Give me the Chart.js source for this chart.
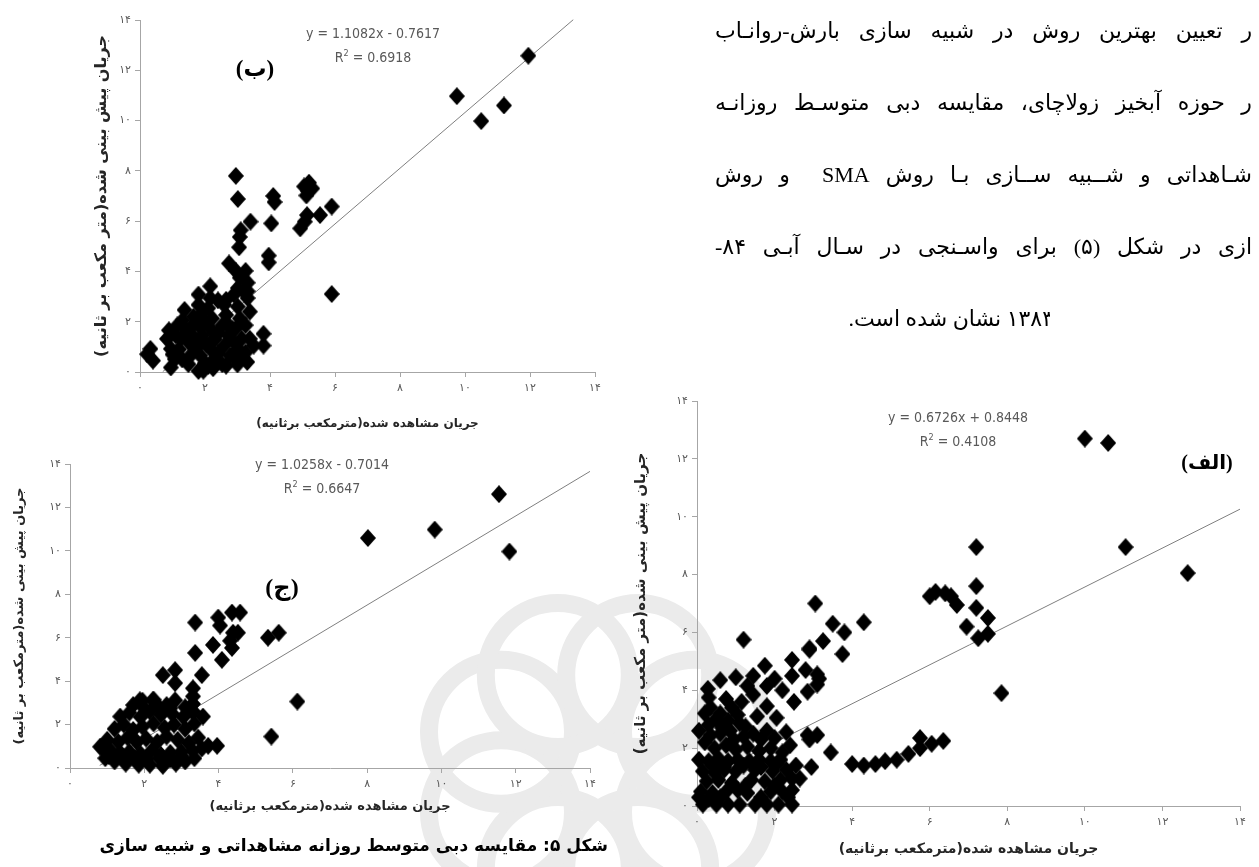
<!DOCTYPE html>
<html lang="fa">
<head>
<meta charset="utf-8">
<title>شکل ۵</title>
<script src="https://cdn.jsdelivr.net/npm/chart.js@4.4.1/dist/chart.umd.min.js"></script>
<style>
  html, body { margin: 0; padding: 0; background: #fff; }
  body { width: 1259px; height: 867px; position: relative; overflow: hidden; font-family: "DejaVu Sans", sans-serif; }
  #wm { position: absolute; left: 0; top: 0; z-index: 0; }
  canvas.chart { position: absolute; z-index: 1; }
  .line { position: absolute; left: 715px; width: 537px; direction: rtl; font-family: "Liberation Serif", "DejaVu Sans", serif;
          font-size: 22px; line-height: 30px; color: #000; text-align: justify; text-align-last: justify; z-index: 2; }
  .lastwrap { position: absolute; left: 840px; width: 210px; height: 32px; overflow: hidden; z-index: 2; }
  .lastwrap div { position: absolute; right: -4px; top: 0; white-space: nowrap; direction: rtl; font-family: "Liberation Serif", "DejaVu Sans", serif;
                  font-size: 22px; line-height: 30px; }
  .eq { position: absolute; transform: translateX(-50%); text-align: center; color: #595959; z-index: 2;
        font-family: "Liberation Sans Narrow", "DejaVu Sans Condensed", sans-serif; font-size: 14px; line-height: 24px; white-space: nowrap; }
  .eq sup { font-size: 9px; line-height: 0; }
  .panel { position: absolute; transform: translate(-50%, -50%); direction: rtl; font-weight: bold; color: #000; z-index: 2;
           font-family: "Liberation Serif", "DejaVu Sans", serif; white-space: nowrap; }
  .caption { position: absolute; left: 60px; width: 548px; top: 831px; direction: rtl; text-align: right; font-weight: bold;
             font-size: 17px; line-height: 28px; color: #000; z-index: 2; white-space: nowrap; }
</style>
</head>
<body>
<canvas id="wm" width="1259" height="867"></canvas>

<canvas id="chartB" class="chart" width="532" height="435" style="left:88px; top:0px;"></canvas>
<canvas id="chartC" class="chart" width="602" height="378" style="left:8px; top:440px;"></canvas>
<canvas id="chartA" class="chart" width="631" height="484" style="left:628px; top:378px;"></canvas>

<div class="line" style="top:16px;">ر تعیین بهترین روش در شبیه سازی بارش-روانـاب</div>
<div class="line" style="top:88px;">ر حوزه آبخیز زولاچای، مقایسه دبی متوسـط روزانـه</div>
<div class="line" style="top:160px;">شـاهداتی و شــبیه ســازی بـا روش SMA&nbsp; و روش</div>
<div class="line" style="top:232px;">ازی در شکل (۵) برای واسـنجی در سـال آبـی ۸۴-</div>
<div class="lastwrap" style="top:304px;"><div>۱۳۸۳ نشان شده است.</div></div>

<div class="eq" style="left:373px; top:21px;">y = 1.1082x - 0.7617<br>R<sup>2</sup> = 0.6918</div>
<div class="eq" style="left:322px; top:452px;">y = 1.0258x - 0.7014<br>R<sup>2</sup> = 0.6647</div>
<div class="eq" style="left:958px; top:405px;">y = 0.6726x + 0.8448<br>R<sup>2</sup> = 0.4108</div>

<div class="panel" style="left:255px; top:68px; font-size:23px;">(ب)</div>
<div class="panel" style="left:282px; top:587px; font-size:24px;">(ج)</div>
<div class="panel" style="left:1207px; top:462px; font-size:20px;">(الف)</div>

<div class="caption">شکل ۵: مقایسه دبی متوسط روزانه مشاهداتی و شبیه سازی</div>

<script>
// Axis tick labels (Persian digits) and axis titles
const tickLabelsFa = ['۰', '۲', '۴', '۶', '۸', '۱۰', '۱۲', '۱۴'];
const xTitleFa = 'جریان مشاهده شده(مترمکعب برثانیه)';
const yTitleFaWide = 'جریان پیش بینی شده(متر مکعب بر ثانیه)';
const yTitleFa = 'جریان پیش بینی شده(مترمکعب بر ثانیه)';

// (ب) observed vs predicted daily discharge
const observedB = [11.95, 9.75, 10.5, 11.2, 5.9, 5.9, 5.54, 5.2, 5.17, 5.05, 5.3, 5.12, 5.14, 5.07, 4.93, 4.14, 4.1, 4.04, 3.96, 3.96,
  2.95, 3.01, 3.4, 3.1, 3.07, 3.05, 2.74, 2.95, 3.07, 3.31, 3.01, 3.31, 3.25, 2.16, 1.8, 2.65, 1.37, 3.01, 3.8, 3.8, 3.5, 0.32, 0.4, 0.22, 0.89, 0.95,
  0.83, 0.95, 1.07, 1.31, 1.43, 1.49, 1.55, 1.49, 1.25, 1.8, 1.86, 1.8, 1.92, 1.8, 1.86, 1.8, 1.98, 2.16, 2.1, 2.22, 2.16, 2.28, 2.16, 2.28, 2.1,
  2.59, 2.65, 2.53, 2.71, 2.59, 2.77, 2.53, 3.07, 2.95, 3.13, 3.01, 2.95, 3.31, 3.38, 3.25, 3.38, 3.25, 2.89, 3.19,
  2.4, 2.4, 2.0, 2.05, 2.4, 2.7, 2.85, 3.15, 1.65, 1.65, 1.15, 1.2, 1.95, 2.25,
  1.0, 1.3, 1.7, 2.0, 2.35, 2.65, 3.0, 3.3, 1.1, 1.55, 2.3, 2.85];
const predictedB = [12.58, 10.97, 9.98, 10.6, 3.1, 6.58, 6.24, 7.53, 7.2, 7.38, 7.3, 7.02, 6.24, 5.98, 5.71, 6.76, 7.0, 5.91, 4.63, 4.36,
  7.8, 6.88, 5.98, 5.64, 5.37, 4.96, 4.32, 4.02, 3.75, 3.55, 3.34, 3.21, 4.02, 3.41, 3.08, 2.87, 2.47, 2.6, 1.52, 1.05, 1.05, 0.92, 0.45, 0.71, 1.66, 0.18,
  1.32, 0.92, 0.51, 2.06, 1.66, 1.19, 0.65, 0.31, 1.32, 2.67, 2.27, 1.86, 1.46, 1.05, 0.65, 0.04, 0.24, 2.94, 2.54, 2.13, 1.73, 1.32, 0.92, 0.51, 0.24,
  2.67, 2.27, 1.86, 1.46, 1.05, 0.65, 0.31, 2.13, 1.73, 1.32, 0.92, 0.51, 2.94, 2.4, 1.86, 1.32, 0.78, 3.08, 3.21,
  2.85, 1.55, 2.0, 1.1, 0.75, 1.9, 1.25, 0.6, 1.4, 2.2, 1.85, 0.9, 0.05, 0.15,
  0.7, 0.5, 0.95, 0.35, 0.45, 0.25, 0.3, 0.4, 1.45, 1.75, 1.3, 1.7];
const trendB = { slope: 1.1082, intercept: -0.7617, from: 0.7, to: 13.33 };

// (ج)
const observedC = [11.55, 9.82, 8.02, 11.83, 6.12, 5.42, 5.33, 5.62, 3.37, 3.99, 4.36, 4.58, 4.04, 4.39, 4.52, 3.85, 4.31, 4.36, 4.09, 3.37,
  2.5, 2.83, 2.83, 3.55, 3.31, 2.23, 2.83, 1.88, 3.58, 1.35, 0.81, 3.72, 3.96, 3.31, 3.31, 3.31,
  0.95, 1.2, 1.5, 1.85, 2.15, 2.5, 2.85, 3.1, 3.35,
  0.85, 1.1, 1.35, 1.6, 1.9, 2.2, 2.45, 2.7, 3.0, 3.3, 3.55,
  1.0, 1.3, 1.55, 1.8, 2.05, 2.35, 2.6, 2.9, 3.2, 3.45,
  1.2, 1.45, 1.7, 1.95, 2.25, 2.55, 2.8, 3.1, 3.35,
  1.6, 1.9, 2.15, 2.45, 2.75, 3.05, 3.3,
  1.7, 1.95, 2.25, 2.6,
  1.05, 1.45, 1.75, 2.05, 2.4, 2.7, 3.0, 2.0, 2.4, 2.7, 3.1];
const predictedC = [12.61, 10.98, 10.59, 9.97, 3.06, 1.45, 6.0, 6.23, 6.7, 6.93, 7.16, 7.16, 6.56, 6.23, 6.23, 5.67, 5.86, 5.53, 4.98, 5.3,
  4.28, 4.51, 3.91, 4.28, 3.67, 3.12, 3.12, 3.12, 2.37, 2.37, 0.98, 1.02, 1.02, 3.3, 2.95, 2.6,
  0.45, 0.3, 0.2, 0.15, 0.15, 0.1, 0.2, 0.3, 0.45,
  0.95, 0.8, 0.7, 0.75, 0.65, 0.8, 0.6, 0.7, 0.75, 0.8, 0.9,
  1.3, 1.2, 1.4, 1.2, 1.35, 1.2, 1.45, 1.3, 1.15, 1.4,
  1.8, 2.0, 1.75, 1.9, 2.05, 1.85, 2.0, 1.8, 2.05,
  2.55, 2.35, 2.6, 2.45, 2.5, 2.35, 2.6,
  2.9, 3.1, 3.15, 2.9,
  0.55, 0.5, 0.45, 0.4, 0.45, 0.4, 0.55, 2.75, 2.8, 2.75, 2.8];
const trendC = { slope: 1.0258, intercept: -0.7014, from: 0.8, to: 14.0 };

// (الف)
const observedA = [10.0, 10.6, 11.05, 12.65, 7.2, 7.2, 7.2, 7.5, 7.5, 7.25, 6.95, 6.7, 6.4, 6.0, 6.55, 6.15, 7.85,
  4.3, 3.8, 3.5, 3.05, 3.25, 2.9, 3.75, 2.45, 2.9, 1.2, 1.75, 2.45, 1.45, 1.8, 2.2, 2.85, 3.1, 3.1,
  0.28, 0.6, 1.0, 1.3, 1.45, 1.8, 2.05, 0.5, 0.75, 0.6, 1.1, 1.55, 1.45, 1.8, 2.4, 2.85, 3.1, 3.45, 2.95, 2.55, 2.65, 2.9,
  4.0, 4.3, 4.6, 4.85, 5.15, 5.45, 5.75, 6.05, 6.35, 5.75,
  2.8, 3.15, 2.0, 2.5,
  0.3, 0.35, 0.6, 0.9, 1.15, 0.3, 0.85, 1.2,
  0.2, 0.45, 0.75, 1.0, 1.3, 1.6, 1.9, 2.2,
  0.05, 0.3, 0.55, 0.8, 1.05, 1.35, 1.6, 1.9, 2.15,
  0.15, 0.45, 0.7, 1.0, 1.5, 1.95, 2.3,
  0.25, 0.55, 0.9, 1.4, 1.75, 2.15, 2.45,
  0.1, 0.4, 0.75, 1.05, 1.3, 1.9, 2.2, 2.45,
  0.15, 0.5, 0.8, 1.1, 1.5, 1.8, 2.1, 2.45,
  0.05, 0.35, 0.65, 0.95, 1.25, 0.2, 0.5, 0.8, 1.05, 1.65, 2.0, 2.3,
  0.4, 0.7, 1.2, 1.65, 2.05, 0.05, 0.3, 0.6, 1.25, 1.65, 2.0, 2.35];
const predictedA = [12.7, 12.55, 8.95, 8.05, 8.95, 7.6, 6.85, 6.5, 5.95, 5.8, 6.2, 6.95, 7.35, 7.25, 7.25, 7.4, 3.9,
  6.35, 6.0, 6.3, 7.0, 5.7, 5.4, 5.25, 5.05, 5.45, 5.75, 4.85, 4.5, 4.5, 4.15, 4.0, 3.95, 4.2, 4.55,
  4.05, 4.35, 4.45, 4.15, 3.85, 3.45, 3.05, 3.0, 3.7, 2.5, 2.85, 3.1, 2.5, 2.6, 2.1, 2.45, 2.45, 1.85, 1.35, 1.4, 0.95, 2.3,
  1.45, 1.4, 1.45, 1.55, 1.6, 1.8, 2.0, 2.15, 2.25, 2.35,
  4.7, 4.4, 4.4, 3.6,
  3.75, 3.4, 3.2, 3.4, 3.6, 2.8, 2.6, 2.4,
  2.2, 2.0, 2.1, 1.95, 2.05, 1.9, 2.0, 1.85,
  1.6, 1.55, 1.65, 1.55, 1.6, 1.55, 1.6, 1.55, 1.6,
  1.2, 1.15, 1.25, 1.2, 1.25, 1.2, 1.25,
  0.85, 0.9, 0.8, 0.9, 0.85, 0.9, 0.95,
  0.5, 0.45, 0.5, 0.55, 0.45, 0.5, 0.5, 0.55,
  0.05, 0.05, 0.05, 0.05, 0.05, 0.05, 0.05, 0.05,
  2.6, 2.45, 2.7, 2.3, 2.75, 3.2, 3.0, 2.95, 3.15, 2.3, 2.35, 2.55,
  1.4, 1.35, 1.4, 1.35, 1.45, 0.3, 0.25, 0.3, 0.7, 0.3, 0.7, 0.3];
const trendA = { slope: 0.6726, intercept: 0.8448, from: 0.05, to: 14.0 };

// faint rosette emblem behind the figures
(function drawEmblem() {
  const ctx = document.getElementById('wm').getContext('2d');
  ctx.strokeStyle = '#ebebeb';
  ctx.lineWidth = 18;
  const cx = 598, cy = 772, ring = 105, r = 72;
  for (let k = 0; k < 8; k++) {
    const a = k * Math.PI / 4 + Math.PI / 8;
    ctx.beginPath();
    ctx.arc(cx + ring * Math.cos(a), cy + ring * Math.sin(a), r, 0, Math.PI * 2);
    ctx.stroke();
  }
})();

// black diamond marker, slightly taller than wide
function makeDiamond(w, h) {
  const c = document.createElement('canvas');
  c.width = w; c.height = h;
  const g = c.getContext('2d');
  g.fillStyle = '#000';
  g.beginPath();
  g.moveTo(w / 2, 0); g.lineTo(w, h / 2); g.lineTo(w / 2, h); g.lineTo(0, h / 2);
  g.closePath(); g.fill();
  return c;
}
const diamond = makeDiamond(16, 18);

const RLM = '\u200F';

function makeChart(id, obs, pred, trend, g) {
  const points = obs.map((x, i) => ({ x: x, y: pred[i] }));
  const trendPts = [trend.from, trend.to].map(x => ({ x: x, y: trend.slope * x + trend.intercept }));
  const axisColor = '#a6a6a6';
  return new Chart(document.getElementById(id), {
    type: 'scatter',
    data: {
      datasets: [
        { data: points, pointStyle: diamond, pointRadius: 8, backgroundColor: '#000', borderColor: '#000', clip: false, order: 1 },
        { type: 'line', data: trendPts, borderColor: '#7f7f7f', borderWidth: 1, pointRadius: 0, showLine: true, fill: false, clip: false, order: 2 }
      ]
    },
    options: {
      responsive: false, animation: false, devicePixelRatio: 1,
      layout: { padding: { top: g.padTop, right: g.padRight, left: 0, bottom: 0 } },
      plugins: { legend: { display: false }, tooltip: { enabled: false } },
      events: [],
      scales: {
        x: {
          type: 'linear', min: 0, max: 14,
          afterFit: s => { s.height = g.xHeight; },
          ticks: { stepSize: 2, callback: v => tickLabelsFa[v / 2], color: '#595959', font: { family: 'DejaVu Sans', size: 11 }, padding: 5, maxRotation: 0 },
          grid: { drawOnChartArea: false, tickLength: 5, color: axisColor },
          border: { color: axisColor },
          title: { display: true, text: RLM + xTitleFa + RLM, color: '#262626', font: { family: 'DejaVu Sans', size: g.xTitle, weight: 'bold' }, padding: { top: 2, bottom: 4 } }
        },
        y: {
          type: 'linear', min: 0, max: 14,
          afterFit: s => { s.width = g.yWidth; },
          ticks: { stepSize: 2, callback: v => tickLabelsFa[v / 2], color: '#595959', font: { family: 'DejaVu Sans', size: 11 }, padding: 4 },
          grid: { drawOnChartArea: false, tickLength: 5, color: axisColor },
          border: { color: axisColor },
          title: { display: true, text: RLM + g.yText + RLM, color: '#262626', font: { family: 'DejaVu Sans', size: g.yTitle, weight: 'bold' }, padding: { top: 4, bottom: 2 } }
        }
      }
    }
  });
}

makeChart('chartB', observedB, predictedB, trendB, { padTop: 20, padRight: 25, xHeight: 63, yWidth: 52, xTitle: 12, yTitle: 16, yText: yTitleFaWide });
makeChart('chartC', observedC, predictedC, trendC, { padTop: 24, padRight: 20, xHeight: 50, yWidth: 62, xTitle: 13, yTitle: 13, yText: yTitleFa });
makeChart('chartA', observedA, predictedA, trendA, { padTop: 23, padRight: 19, xHeight: 56, yWidth: 69, xTitle: 14, yTitle: 15, yText: yTitleFaWide });
</script>
</body>
</html>
